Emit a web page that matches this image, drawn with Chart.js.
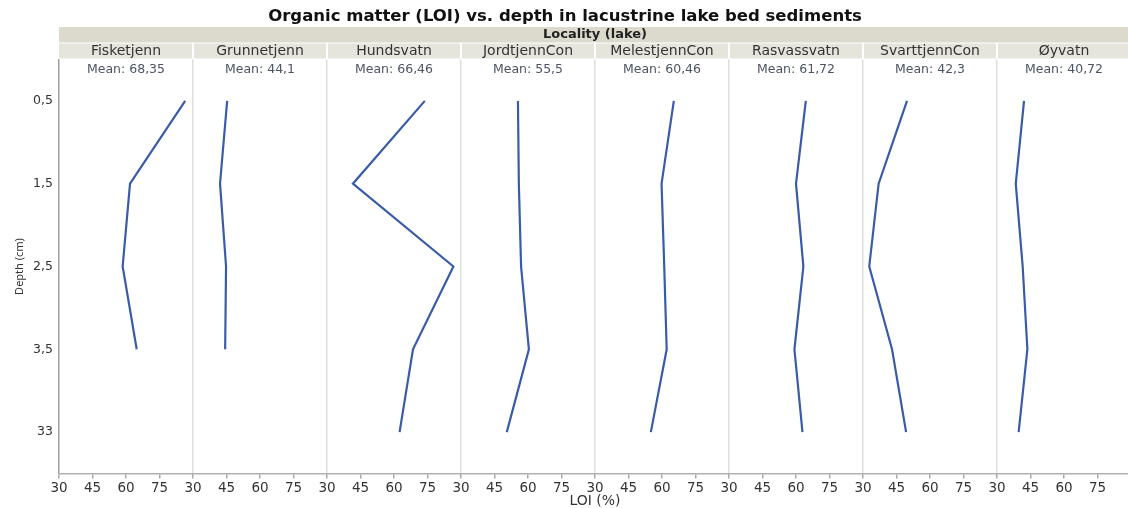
<!DOCTYPE html>
<html>
<head>
<meta charset="utf-8">
<title>Organic matter (LOI) vs. depth</title>
<script src="https://cdn.jsdelivr.net/npm/chart.js@4/dist/chart.umd.min.js"></script>
<style>
  html, body { margin: 0; padding: 0; background: #fff; overflow: hidden; }
  /* the last panel runs a few pixels past the right edge of the window */
  #wrap { width: 1131px; height: 508px; position: relative; }
</style>
</head>
<body>
<div id="wrap"><canvas id="loiChart"></canvas></div>
<script>
// depth classes (cm), top to bottom
const depthLabels = ['0,5', '1,5', '2,5', '3,5', '33'];

const lakes = ['Fisketjenn', 'Grunnetjenn', 'Hundsvatn', 'JordtjennCon',
  'MelestjennCon', 'Rasvassvatn', 'SvarttjennCon', 'Øyvatn'];

// LOI (%) per depth class
const fisketjenn    = [86.5, 61.8, 58.5, 64.8, null];
const grunnetjenn   = [45.3, 42.1, 44.8, 44.4, null];
const hundsvatn     = [73.8, 41.6, 86.6, 68.5, 62.5];
const jordtjennCon  = [55.5, 55.9, 56.9, 60.4, 50.5];
const melestjennCon = [65.3, 59.8, 61.0, 62.1, 55.0];
const rasvassvatn   = [64.4, 60.0, 63.3, 59.3, 62.9];
const svarttjennCon = [49.7, 37.0, 32.8, 43.0, 49.3];
const oyvatn        = [42.1, 38.4, 41.5, 43.6, 39.7];

const lakeValues = [fisketjenn, grunnetjenn, hundsvatn, jordtjennCon,
  melestjennCon, rasvassvatn, svarttjennCon, oyvatn];

const lakeMeans = [68.35, 44.1, 66.46, 55.5, 60.46, 61.72, 42.3, 40.72];

const loiTicks = [30, 45, 60, 75];

const FONT = "'DejaVu Sans', Verdana, sans-serif";
const LINE_COLOR = '#3a5ba8';

// one x scale per lake, stacked side by side along the bottom
const scales = {
  y: {
    type: 'category',
    labels: depthLabels,
    offset: true,
    grid: { display: false, drawTicks: false, tickLength: 0 },
    border: { color: '#a0a0a0', width: 1.5 },
    ticks: { color: '#333', font: { family: FONT, size: 12.5 }, padding: 6 },
    title: { display: true, text: 'Depth (cm)', color: '#333', font: { family: "'Noto Sans', sans-serif", size: 11 }, padding: 13 },
    afterFit: s => { s.width = 59; }
  }
};

lakes.forEach((name, i) => {
  scales['x' + i] = {
    type: 'linear',
    position: 'bottom',
    stack: 'lake',
    stackWeight: 1,
    min: 30,
    max: 90,
    afterBuildTicks: s => { s.ticks = loiTicks.concat([90]).map(v => ({ value: v })); },
    ticks: {
      color: '#333',
      font: { family: FONT, size: 13.5 },
      padding: 2,
      maxRotation: 0,
      autoSkip: false,
      callback: v => (v === 90 ? null : v)
    },
    grid: {
      color: ctx => (ctx.tick && ctx.tick.value === 30 ? (i === 0 ? 'transparent' : '#dedede') : 'transparent'),
      lineWidth: 1.5,
      tickColor: '#a8a8a8',
      tickLength: 5
    },
    border: { color: '#b0b0b0', width: 1.5 },
    afterFit: s => { s.height = 34.5; }
  };
});

const datasets = lakes.map((name, i) => ({
  label: name,
  data: lakeValues[i],
  xAxisID: 'x' + i,
  yAxisID: 'y',
  borderColor: LINE_COLOR,
  borderWidth: 2.2,
  pointRadius: 0,
  tension: 0,
  fill: false
}));

// title, strip headers, mean labels and the shared x title
const facetHeaders = {
  id: 'facetHeaders',
  afterDraw(chart) {
    const { ctx, chartArea } = chart;
    ctx.save();

    ctx.fillStyle = '#111';
    ctx.font = 'bold 16.5px ' + FONT;
    ctx.textAlign = 'center';
    ctx.textBaseline = 'middle';
    ctx.fillText('Organic matter (LOI) vs. depth in lacustrine lake bed sediments', 565, 17);

    ctx.fillStyle = '#dcdacd';
    ctx.fillRect(chartArea.left, 27, chartArea.right - chartArea.left, 15.5);
    ctx.fillStyle = '#222';
    ctx.font = 'bold 13px ' + FONT;
    ctx.fillText('Locality (lake)', (chartArea.left + chartArea.right) / 2, 35);

    lakes.forEach((name, i) => {
      const s = chart.scales['x' + i];
      ctx.fillStyle = '#e6e5dc';
      ctx.fillRect(s.left + (i ? 1 : 0), 43.5, s.right - s.left - (i ? 2 : 1), 15);
      const cx = (s.left + s.right) / 2;
      ctx.fillStyle = '#333';
      ctx.font = '14px ' + FONT;
      ctx.fillText(name, cx, 51.5);
      ctx.fillStyle = '#4d5563';
      ctx.font = '12.5px ' + FONT;
      ctx.fillText('Mean: ' + String(lakeMeans[i]).replace('.', ','), cx, 69.5);
    });

    ctx.fillStyle = '#333';
    ctx.font = '14px ' + FONT;
    ctx.fillText('LOI (%)', (chartArea.left + chartArea.right) / 2, 501);
    ctx.restore();
  }
};

new Chart(document.getElementById('loiChart'), {
  type: 'line',
  data: { labels: depthLabels, datasets },
  options: {
    indexAxis: 'y',
    responsive: true,
    maintainAspectRatio: false,
    animation: false,
    layout: { padding: { top: 59.5, left: 0, right: 0, bottom: 0 } },
    plugins: { legend: { display: false }, tooltip: { enabled: false } },
    scales
  },
  plugins: [facetHeaders]
});
</script>
</body>
</html>
